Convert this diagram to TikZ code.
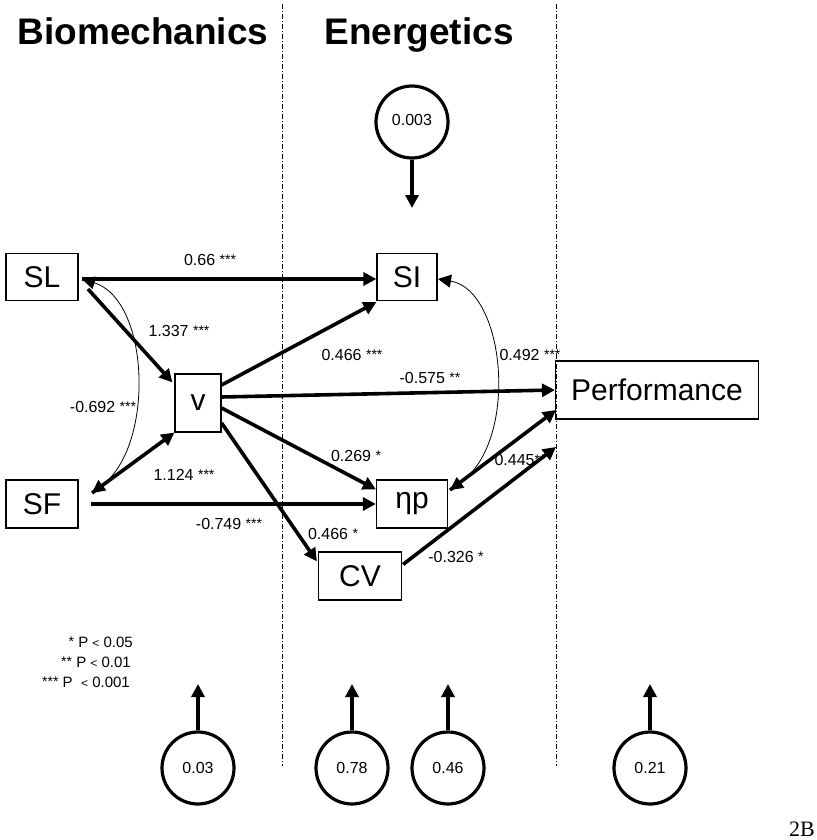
\documentclass[tikz,border=0pt]{standalone}
\usepackage{fontspec}
\setmainfont{Liberation Sans}
\newfontfamily\serifr{Liberation Serif}
\usetikzlibrary{arrows.meta}
\newcommand{\sig}[1]{{\fontsize{14}{14}\selectfont\raisebox{1pt}{#1}}}
\tikzset{
 box/.style={draw, line width=1.2pt, inner sep=0pt, font=\fontsize{30}{32}\selectfont},
 res/.style={draw, circle, line width=3.2pt, minimum size=72pt, inner sep=0pt, font=\fontsize{16}{17}\selectfont},
 effect/.style={line width=3.6pt, -{Triangle[length=13pt,width=13pt]}},
 corr/.style={line width=0.8pt, {Triangle[length=13pt,width=13pt]}-{Triangle[length=13pt,width=13pt]}},
 lab/.style={font=\fontsize{16}{17}\selectfont, inner sep=0pt},
 leg/.style={font=\fontsize{15}{16}\selectfont, inner sep=0pt, anchor=east},
 divider/.style={line width=1pt, dash pattern=on 5pt off 2pt on 1pt off 2pt},
 title/.style={font=\bfseries\fontsize{37}{40}\selectfont, inner sep=0pt, anchor=base}
}
\begin{document}
\begin{tikzpicture}[x=1pt,y=-1pt]
\useasboundingbox (0,0) rectangle (816,840);
% dividers
\coordinate (d1t) at (282,4); \coordinate (d1b) at (282,766);
\coordinate (d2t) at (556,4); \coordinate (d2b) at (556,766);
\draw[divider] (d1t) -- (d1b);
\draw[divider] (d2t) -- (d2b);
% titles
\node[title] (tb) at (143,45) {Biomechanics};
\node[title] (te) at (419,45) {Energetics};
% boxes
\node[box, minimum width=72pt, minimum height=47pt] (SL) at (42,277) {SL};
\node[box, minimum width=72pt, minimum height=48pt] (SF) at (42,504) {SF};
\node[box, minimum width=46pt, minimum height=58pt] (v) at (198,403) {v};
\node[box, minimum width=60pt, minimum height=47pt] (SI) at (407,277) {SI};
\node[box, minimum width=71pt, minimum height=48pt] (np) at (412,504) {ηp};
\node[box, minimum width=83pt, minimum height=48pt] (CV) at (360,576) {CV};
\node[box, minimum width=203pt, minimum height=58pt] (P) at (657,390) {Performance};
% residual circles
\node[res] (e0) at (412,122) {\raisebox{5pt}{0.003}};
\node[res] (e1) at (198,768) {0.03};
\node[res] (e2) at (352,768) {0.78};
\node[res] (e3) at (448,768) {0.46};
\node[res] (e4) at (650,768) {0.21};
\coordinate (t0) at (412,208);
\coordinate (t1) at (198,684);
\coordinate (t2) at (352,684);
\coordinate (t3) at (448,684);
\coordinate (t4) at (650,684);
\draw[effect] (e0) -- (t0);
\draw[effect] (e1) -- (t1);
\draw[effect] (e2) -- (t2);
\draw[effect] (e3) -- (t3);
\draw[effect] (e4) -- (t4);
% anchor points
\coordinate (slo) at (82,279);
\coordinate (sfo) at (92,493);
\coordinate (sio) at (438,279);
\coordinate (npo) at (450,490);
\coordinate (pa) at (556,410);
\coordinate (pb) at (556,447);
% paths
\draw[effect] (slo) -- ([yshift=-2pt]SI.west);
\draw[effect] (88,289) -- ([shift={(-2pt,-9pt)}]v.north west);
\draw[effect] (sfo) -- (v.south west);
\draw[effect] ([xshift=12pt]SF.east) -- (np.west);
\draw[effect] ([yshift=18pt]v.east) -- ([yshift=-1pt]SI.south west);
\draw[effect] ([yshift=6pt]v.east) -- (P.west);
\draw[effect] ([yshift=-5pt]v.east) -- ([yshift=-10pt]np.north west);
\draw[effect] ([yshift=-20pt]v.east) -- ([shift={(-1pt,-10pt)}]CV.north west);
\draw[effect] ([shift={(1pt,-13pt)}]CV.north east) -- (pb);
\draw[effect] (npo) -- (pa);
% correlations
\draw[corr] (slo) .. controls (150,300) and (155,445) .. (sfo);
\draw[corr] (sio) .. controls (505,290) and (520,440) .. (npo);
% labels
\node[lab] (l1) at (210,260) {0.66 \sig{***}};
\node[lab] (l2) at (179,331) {1.337 \sig{***}};
\node[lab] (l3) at (103,407) {-0.692 \sig{***}};
\node[lab] (l4) at (184,475) {1.124 \sig{***}};
\node[lab] (l5) at (229,524) {-0.749 \sig{***}};
\node[lab] (l6) at (352,355) {0.466 \sig{***}};
\node[lab] (l7) at (430,378) {-0.575 \sig{**}};
\node[lab] (l8) at (356,456) {0.269 \sig{*}};
\node[lab] (l9) at (333,534) {0.466 \sig{*}};
\node[lab] (l10) at (456,557) {-0.326 \sig{*}};
\node[lab] (l11) at (520,460) {0.445\sig{**}};
\node[lab] (l12) at (530,355) {0.492 \sig{***}};
% legend
\node[leg] (g1) at (133,642) {\sig{*} P {\fontsize{12}{12}\selectfont<} 0.05};
\node[leg] (g2) at (131,662) {\sig{**} P {\fontsize{12}{12}\selectfont<} 0.01};
\node[leg] (g3) at (130,682) {\sig{***} P \ {\fontsize{12}{12}\selectfont<} 0.001};
\node[font=\serifr\fontsize{22}{22}\selectfont, inner sep=0pt, anchor=base east] (fig) at (815,836) {2B};
\end{tikzpicture}
\end{document}
